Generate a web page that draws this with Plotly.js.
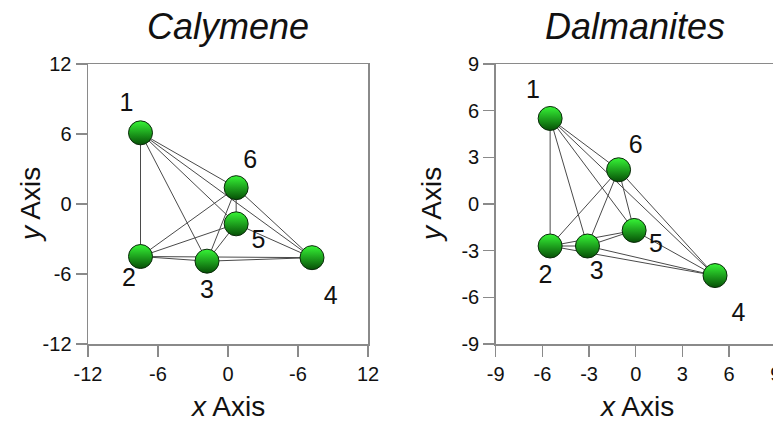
<!DOCTYPE html>
<html>
<head>
<meta charset="utf-8">
<script src="https://cdn.plot.ly/plotly-3.0.1.min.js"></script>
<style>
html, body { margin:0; padding:0; overflow:hidden; background:#fff; width:773px; height:424px; }
#chart { width:800px; height:424px; }
</style>
</head>
<body>
<div id="chart"></div>
<script>
// Data
var pointLabels = ['1','2','3','4','5','6'];

var calymeneX = [-7.5, -7.5, -1.8, 7.2, 0.7, 0.7];
var calymeneY = [6.1, -4.5, -4.9, -4.6, -1.7, 1.4];
var calymeneLabelX = [-8.7, -8.5, -1.8, 8.8, 2.6, 1.9];
var calymeneLabelY = [8.5, -6.5, -7.5, -8.0, -3.2, 3.6];

var dalmanitesX = [-5.5, -5.5, -3.1, 5.1, -0.1, -1.1];
var dalmanitesY = [5.5, -2.7, -2.7, -4.6, -1.7, 2.2];
var dalmanitesLabelX = [-6.6, -5.8, -2.5, 6.6, 1.3, 0.0];
var dalmanitesLabelY = [7.2, -4.7, -4.4, -7.1, -2.7, 3.7];

var calymeneTickVals = [-12, -6, 0, 6, 12];
var calymeneXTickText = ['-12', '-6', '0', '-6', '12'];
var calymeneYTickText = ['-12', '-6', '0', '6', '12'];
var dalmanitesTickVals = [-9, -6, -3, 0, 3, 6, 9];
var dalmanitesTickText = ['-9', '-6', '-3', '0', '3', '6', '9'];

var panelTitles = ['Calymene', 'Dalmanites'];

// Build all pairwise connections from the point arrays
function edges(xs, ys) {
  var ex = [], ey = [];
  for (var i = 0; i < xs.length; i++) {
    for (var j = i + 1; j < xs.length; j++) {
      ex.push(xs[i], xs[j], null);
      ey.push(ys[i], ys[j], null);
    }
  }
  return {x: ex, y: ey};
}

var FONT = 'Liberation Sans, Arial, sans-serif';
var marker = {
  size: 24,
  color: '#36f536',
  gradient: {type: 'vertical', color: '#064f06'},
  line: {color: '#0a2a0a', width: 1}
};

function panelTraces(xs, ys, lx, ly, xa, ya) {
  var e = edges(xs, ys);
  return [
    {x: e.x, y: e.y, xaxis: xa, yaxis: ya, mode: 'lines', type: 'scatter',
     line: {color: '#4a4a4a', width: 1}, hoverinfo: 'skip', showlegend: false},
    {x: xs, y: ys, xaxis: xa, yaxis: ya, mode: 'markers', type: 'scatter',
     marker: marker, showlegend: false},
    {x: lx, y: ly, xaxis: xa, yaxis: ya, mode: 'text', type: 'scatter',
     text: pointLabels, textposition: 'middle center',
     textfont: {family: FONT, size: 25, color: '#111'}, showlegend: false}
  ];
}

var data = panelTraces(calymeneX, calymeneY, calymeneLabelX, calymeneLabelY, 'x', 'y')
  .concat(panelTraces(dalmanitesX, dalmanitesY, dalmanitesLabelX, dalmanitesLabelY, 'x2', 'y2'));

var W = 800, H = 424;
function axisCommon() {
  return {
    showline: true, mirror: true, linecolor: '#8a8a8a', linewidth: 1.5,
    ticks: 'outside', ticklen: 11, tickwidth: 1.5, tickcolor: '#8a8a8a',
    showgrid: false, zeroline: false, fixedrange: true,
    tickfont: {family: FONT, size: 20, color: '#111'}
  };
}
var yDom = [1 - 344 / H, 1 - 64 / H];

var xa1 = Object.assign(axisCommon(), {domain: [88 / W, 368 / W], range: [-12, 12],
  tickmode: 'array', tickvals: calymeneTickVals, ticktext: calymeneXTickText, anchor: 'y'});
var ya1 = Object.assign(axisCommon(), {domain: yDom, range: [-12, 12],
  tickmode: 'array', tickvals: calymeneTickVals, ticktext: calymeneYTickText, anchor: 'x'});
var xa2 = Object.assign(axisCommon(), {domain: [495.7 / W, 775.7 / W], range: [-9, 9],
  tickmode: 'array', tickvals: dalmanitesTickVals, ticktext: dalmanitesTickText, anchor: 'y2'});
var ya2 = Object.assign(axisCommon(), {domain: yDom, range: [-9, 9],
  tickmode: 'array', tickvals: dalmanitesTickVals, ticktext: dalmanitesTickText, anchor: 'x2'});

function ann(text, px, py, size, angle) {
  return {text: text, x: px / W, y: 1 - py / H, xref: 'paper', yref: 'paper',
    xanchor: 'center', yanchor: 'middle', showarrow: false, textangle: angle || 0,
    font: {family: FONT, size: size, color: '#111'}};
}

var layout = {
  width: W, height: H,
  margin: {l: 0, r: 0, t: 0, b: 0},
  paper_bgcolor: '#fff', plot_bgcolor: '#fff',
  showlegend: false,
  xaxis: xa1, yaxis: ya1, xaxis2: xa2, yaxis2: ya2,
  annotations: [
    ann('<i>' + panelTitles[0] + '</i>', 228, 27, 36),
    ann('<i>' + panelTitles[1] + '</i>', 635, 27, 36),
    ann('<i>y</i> Axis', 31, 205, 28, -90),
    ann('<i>y</i> Axis', 432, 205, 28, -90),
    ann('<i>x</i> Axis', 228, 406, 28),
    ann('<i>x</i> Axis', 636, 406, 28)
  ]
};

Plotly.newPlot('chart', data, layout, {displayModeBar: false, staticPlot: true});
</script>
</body>
</html>
